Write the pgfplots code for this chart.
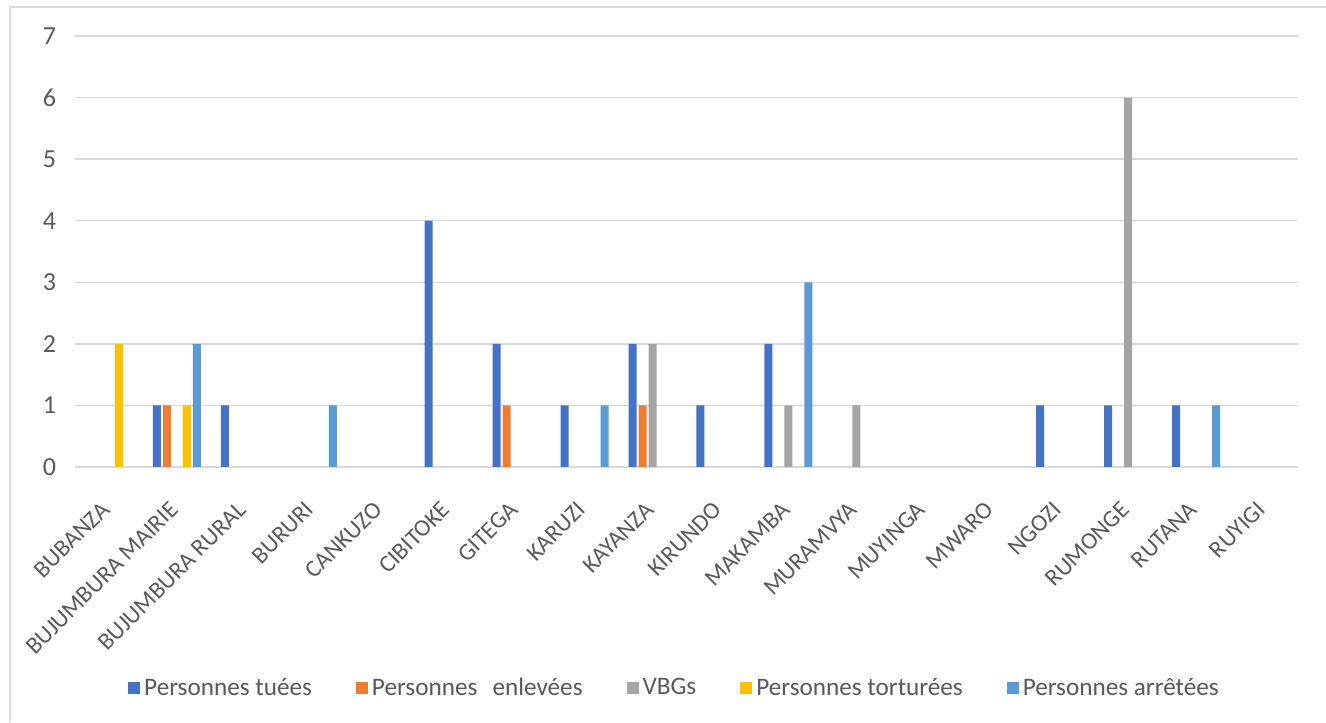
\documentclass[border=0pt]{standalone}
\usepackage{fontspec}
\setmainfont{Carlito}
\usepackage{pgfplots}
\pgfplotsset{compat=1.18}
\definecolor{cA}{HTML}{4472C4}
\definecolor{cB}{HTML}{ED7D31}
\definecolor{cC}{HTML}{A5A5A5}
\definecolor{cD}{HTML}{FFC000}
\definecolor{cE}{HTML}{5B9BD5}
\definecolor{txt}{HTML}{595959}
\definecolor{grd}{HTML}{D9D9D9}
\begin{document}
\begin{tikzpicture}
\useasboundingbox (0,0) rectangle (663pt,361pt);
\draw[grd, line width=1pt] (5pt,0) -- (5pt,357.5pt) -- (663pt,357.5pt);
\begin{axis}[
  at={(37.5pt,127.5pt)}, anchor=south west,
  scale only axis, width=611.5pt, height=215.5pt,
  ybar=1pt, bar width=4pt,
  xmin=-0.5, xmax=17.5, ymin=0, ymax=7,
  ytick={0,...,7},
  xtick={0,...,17},
  xticklabels={BUBANZA,BUJUMBURA MAIRIE,BUJUMBURA RURAL,BURURI,CANKUZO,CIBITOKE,GITEGA,KARUZI,KAYANZA,KIRUNDO,MAKAMBA,MURAMVYA,MUYINGA,MWARO,NGOZI,RUMONGE,RUTANA,RUYIGI},
  x tick label style={xshift=1pt, yshift=-17pt, rotate=45, anchor=east, font=\fontsize{12}{14}\selectfont, text=txt},
  y tick label style={font=\fontsize{13}{15}\selectfont, text=txt, xshift=-6pt},
  /pgf/number format/assume math mode=true,
  major tick length=0pt,
  axis line style={draw=none},
  ymajorgrids, grid style={grd, line width=0.7pt},
  legend style={at={(0.491,-0.513)}, anchor=center, draw=none, font=\fontsize{12.6}{14}\selectfont, text=txt, legend columns=5, /tikz/every even column/.append style={column sep=20pt}},
  legend image code/.code={\fill[#1] (0pt,-3pt) rectangle (6pt,3pt);},
]
\addplot[fill=cA, draw=none] coordinates {(1,1) (2,1) (5,4) (6,2) (7,1) (8,2) (9,1) (10,2) (14,1) (15,1) (16,1)};
\addplot[fill=cB, draw=none] coordinates {(1,1) (6,1) (8,1)};
\addplot[fill=cC, draw=none] coordinates {(8,2) (10,1) (11,1) (15,6)};
\addplot[fill=cD, draw=none] coordinates {(0,2) (1,1)};
\addplot[fill=cE, draw=none] coordinates {(1,2) (3,1) (7,1) (10,3) (16,1)};
\legend{Personnes tuées, Personnes\hspace{0.6em}enlevées, VBGs, Personnes torturées, Personnes arrêtées}
\end{axis}
\end{tikzpicture}
\end{document}
